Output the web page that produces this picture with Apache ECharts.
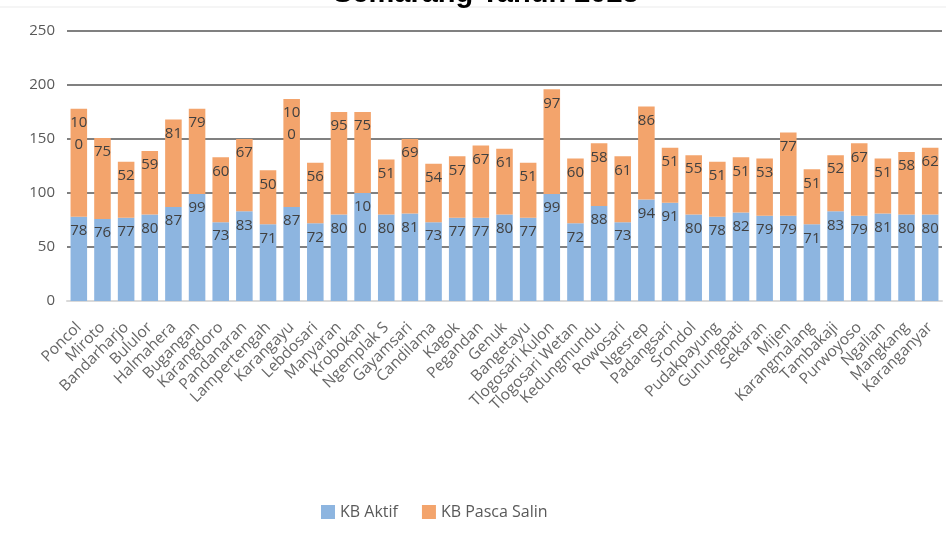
<!DOCTYPE html>
<html>
<head>
<meta charset="utf-8">
<script src="https://cdn.jsdelivr.net/npm/echarts@6/dist/echarts.min.js"></script>
<style>html,body{margin:0;padding:0;background:#fff;}#chart{width:946px;height:535px;}</style>
</head>
<body>
<div id="chart"></div>
<script>
const titleText = 'Semarang Tahun 2023';
const categories = ['Poncol','Miroto','Bandarharjo','Bululor','Halmahera','Bugangan','Karangdoro','Pandanaran','Lampertengah','Karangayu','Lebdosari','Manyaran','Krobokan','Ngemplak S','Gayamsari','Candilama','Kagok','Pegandan','Genuk','Bangetayu','Tlogosari Kulon','Tlogosari Wetan','Kedungmundu','Rowosari','Ngesrep','Padangsari','Srondol','Pudakpayung','Gunungpati','Sekaran','Mijen','Karangmalang','Tambakaji','Purwoyoso','Ngalian','Mangkang','Karanganyar'];
const kbAktif = [78,76,77,80,87,99,73,83,71,87,72,80,100,80,81,73,77,77,80,77,99,72,88,73,94,91,80,78,82,79,79,71,83,79,81,80,80];
const kbPascaSalin = [100,75,52,59,81,79,60,67,50,100,56,95,75,51,69,54,57,67,61,51,97,60,58,61,86,51,55,51,51,53,77,51,52,67,51,58,62];
const seriesNames = ['KB Aktif','KB Pasca Salin'];

const chart = echarts.init(document.getElementById('chart'));
const font = 'Open Sans';
function lbl(p){ const s = String(p.value); return s.length > 2 ? s.slice(0,2) + '\n' + s.slice(2) : s; }
const labelCfg = { show: true, position: 'insideTop', distance: 3, color: '#404040', fontSize: 15, fontFamily: font, lineHeight: 22, formatter: lbl };
chart.setOption({
  animation: false,
  title: { text: titleText, left: 328, top: -26, textStyle: { fontFamily: 'Liberation Sans', fontWeight: 'bold', fontSize: 29, color: '#000' } },
  graphic: [{ type: 'line', shape: { x1: 0, y1: 7, x2: 946, y2: 7 }, style: { stroke: '#ebebeb', lineWidth: 1 } }],
  legend: { top: 499, left: 316, itemWidth: 14, itemHeight: 14, itemGap: 24, icon: 'rect', textStyle: { color: '#595959', fontSize: 16, fontFamily: font } },
  grid: { left: 67, right: 4, top: 31, bottom: 234, containLabel: false },
  xAxis: { type: 'category', data: categories,
    axisLine: { show: true, lineStyle: { color: '#d9d9d9', width: 2 } },
    axisTick: { show: false },
    axisLabel: { rotate: 45, interval: 0, color: '#666666', fontSize: 15.5, fontFamily: font, margin: 24 } },
  yAxis: { type: 'value', min: 0, max: 250, interval: 50,
    axisLine: { show: false }, axisTick: { show: false },
    axisLabel: { color: '#595959', fontSize: 15, fontFamily: font, margin: 12 },
    splitLine: { lineStyle: { color: '#808080', width: 2 } } },
  series: [
    { name: seriesNames[0], type: 'bar', stack: 'total', data: kbAktif, barCategoryGap: '30%', itemStyle: { color: '#8DB5E0' }, label: labelCfg },
    { name: seriesNames[1], type: 'bar', stack: 'total', data: kbPascaSalin, barCategoryGap: '30%', itemStyle: { color: '#F3A46C' }, label: labelCfg }
  ]
});
</script>
</body>
</html>
